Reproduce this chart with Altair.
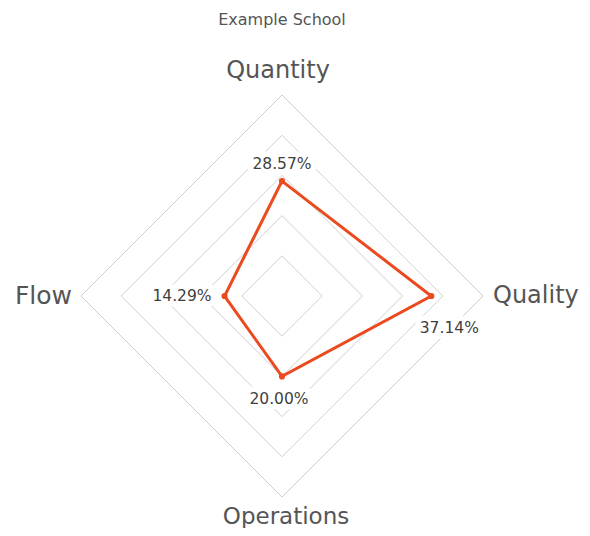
import altair as alt
import pandas as pd

title_text = "Example School"
categories = ["Quantity", "Quality", "Operations", "Flow"]
values = [28.57, 37.14, 20.00, 14.29]
value_labels = ["28.57%", "37.14%", "20.00%", "14.29%"]
grid_levels = [10, 20, 30, 40, 50]
max_value = 50

FONT = "DejaVu Sans"
LINE_COLOR = "#EA4A1E"
GRID_COLOR = "#cfcfcf"
AXIS_TEXT = "#555555"
VALUE_TEXT = "#3f3f3f"
SIZE = 402

n = len(categories)
angles = [360.0 * i / n for i in range(n)]

data = pd.DataFrame({
    "category": categories,
    "value": values,
    "label": value_labels,
    "angle": angles,
    "order": list(range(n)),
})
grid = pd.DataFrame([
    {"level": lv, "angle": a, "order": i}
    for lv in grid_levels for i, a in enumerate(angles)
])
outer = pd.DataFrame({"category": categories, "angle": angles, "level": [max_value] * n})

xscale = alt.Scale(domain=[-max_value, max_value], nice=False, zero=False)
yscale = alt.Scale(domain=[-max_value, max_value], nice=False, zero=False)
X = alt.X("x:Q", scale=xscale, axis=None)
Y = alt.Y("y:Q", scale=yscale, axis=None)


def polar(chart, field):
    return chart.transform_calculate(
        x=f"datum.{field} * sin(datum.angle * PI / 180)",
        y=f"datum.{field} * cos(datum.angle * PI / 180)",
    )


grid_layer = polar(alt.Chart(grid), "level").mark_line(
    interpolate="linear-closed", stroke=GRID_COLOR, strokeWidth=1
).encode(x=X, y=Y, detail="level:N", order="order:Q")

poly_layer = polar(alt.Chart(data), "value").mark_line(
    interpolate="linear-closed", color=LINE_COLOR, strokeWidth=3
).encode(x=X, y=Y, order="order:Q")

point_layer = polar(alt.Chart(data), "value").mark_circle(
    size=38, opacity=1, color=LINE_COLOR
).encode(x=X, y=Y)

value_style = {
    "Quantity": dict(align="center", dx=0, dy=-17),
    "Quality": dict(align="center", dx=18, dy=32),
    "Operations": dict(align="center", dx=-3, dy=23),
    "Flow": dict(align="right", dx=-13, dy=0),
}
axis_style = {
    "Quantity": dict(align="center", dx=-4, dy=-24, fontSize=24),
    "Quality": dict(align="left", dx=10, dy=0, fontSize=24),
    "Operations": dict(align="center", dx=4, dy=20, fontSize=23),
    "Flow": dict(align="right", dx=-9, dy=0, fontSize=25),
}

value_layers = []
for cat, st in value_style.items():
    base = polar(alt.Chart(data), "value").transform_filter(alt.datum.category == cat)
    halo = base.mark_text(
        font=FONT, fontSize=15.5, baseline="middle", stroke="white", strokeWidth=11,
        strokeJoin="round", color="white", **st
    ).encode(x=X, y=Y, text="label:N")
    txt = base.mark_text(
        font=FONT, fontSize=15.5, baseline="middle", color=VALUE_TEXT, **st
    ).encode(x=X, y=Y, text="label:N")
    value_layers += [halo, txt]

axis_layers = []
for cat, st in axis_style.items():
    base = polar(alt.Chart(outer), "level").transform_filter(alt.datum.category == cat)
    axis_layers.append(
        base.mark_text(
            font=FONT, baseline="middle", color=AXIS_TEXT, **st
        ).encode(x=X, y=Y, text="category:N")
    )

chart = alt.layer(
    grid_layer, *value_layers[0::2], poly_layer, point_layer, *value_layers[1::2], *axis_layers
).properties(
    width=SIZE,
    height=SIZE,
    background="white",
    autosize=alt.AutoSizeParams(type="none"),
    padding={"left": 73, "top": 87, "right": 99, "bottom": 31},
    title=alt.TitleParams(
        title_text, font=FONT, fontSize=16, fontWeight="normal",
        color=AXIS_TEXT, anchor="middle", offset=31,
    ),
).configure_view(stroke="transparent", strokeWidth=0)

chart.save("out.html", embed_options={"renderer": "svg", "actions": False})
